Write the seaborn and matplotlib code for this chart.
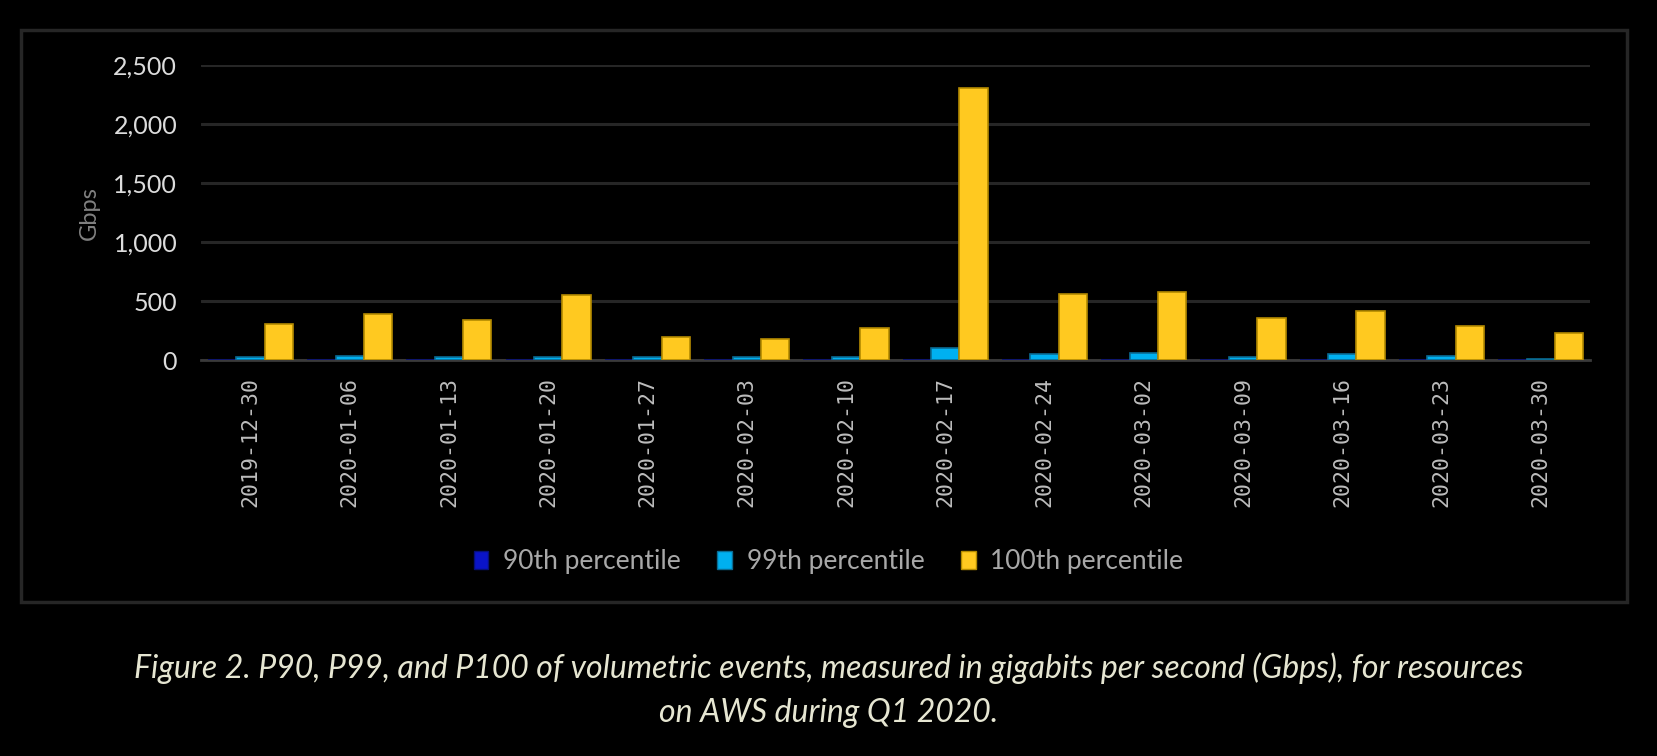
import pandas as pd
import matplotlib.pyplot as plt
import seaborn as sb
from matplotlib.patches import Patch, Rectangle
from matplotlib.ticker import FuncFormatter, FixedLocator

# data (Gbps)
weeks = ['2019-12-30', '2020-01-06', '2020-01-13', '2020-01-20', '2020-01-27',
         '2020-02-03', '2020-02-10', '2020-02-17', '2020-02-24', '2020-03-02',
         '2020-03-09', '2020-03-16', '2020-03-23', '2020-03-30']
p90 = [5, 5, 4, 4, 4, 4, 4, 6, 5, 5, 4, 5, 4, 4]
p99 = [31, 37, 26, 26, 31, 26, 30, 103, 55, 65, 31, 52, 35, 14]
p100 = [310, 390, 345, 550, 200, 180, 270, 2310, 560, 575, 360, 415, 290, 235]
series = ['90th percentile', '99th percentile', '100th percentile']
colors = ['#0A14C8', '#00B0F0', '#FFC920']
edges = ['#06107a', '#0a6c94', '#b38a00']

df = pd.DataFrame({
    'week': weeks * 3,
    'gbps': p90 + p99 + p100,
    'series': [series[0]] * len(weeks) + [series[1]] * len(weeks) + [series[2]] * len(weeks),
})

sb.set_style('dark')
plt.rcParams['font.family'] = ['Lato', 'DejaVu Sans']

fig = plt.figure(figsize=(16.57, 7.56), dpi=100, facecolor='black')
ax = fig.add_axes([0.1212, 0.5234, 0.8386, 0.39])
ax.set_facecolor('black')

sb.barplot(data=df, x='week', y='gbps', hue='series', palette=colors,
           width=0.857, saturation=1, ax=ax, legend=False, zorder=3)
for cont, ec in zip(ax.containers, edges):
    for bar in cont:
        bar.set_edgecolor(ec)
        bar.set_linewidth(1.2)

ax.set_ylim(0, 2500)
ax.set_xlim(-0.5, len(weeks) - 0.5)
ax.set_yticks([0, 500, 1000, 1500, 2000, 2500])
ax.yaxis.set_major_formatter(FuncFormatter(lambda v, p: '{:,.0f}'.format(v)))
ax.grid(axis='y', color='#262626', linewidth=2.2, zorder=0)
ax.grid(axis='x', visible=False)

for s in ['top', 'right', 'left']:
    ax.spines[s].set_visible(False)
ax.spines['bottom'].set_color('#3a3a3a')
ax.spines['bottom'].set_linewidth(2)
ax.spines['bottom'].set_zorder(2)

ax.tick_params(axis='y', length=0, pad=17, labelsize=18, labelcolor='#dcdcdc')
ax.set_xticks(range(len(weeks)))
ax.set_xticklabels(weeks, rotation=90, family='DejaVu Sans Mono', fontsize=15.5, color='#bdbdbd')
ax.tick_params(axis='x', which='major', length=6, width=1.5, color='#3a3a3a', pad=6)
ax.xaxis.set_minor_locator(FixedLocator([i - 0.5 for i in range(len(weeks) + 1)]))
ax.tick_params(axis='x', which='minor', length=7, width=1.5, color='#3a3a3a')

ax.set_xlabel('')
ax.set_ylabel('Gbps', fontsize=17, color='#808080', labelpad=10)

# outer chart frame
fig.patches.append(Rectangle((21 / 1657, 1 - 602 / 756), (1627 - 21) / 1657, (602 - 30) / 756,
                             transform=fig.transFigure, fill=False,
                             edgecolor='#262626', linewidth=2.5))

handles = [Patch(facecolor=c, edgecolor=e, label=s) for c, e, s in zip(colors, edges, series)]
leg = fig.legend(handles=handles, loc='center', bbox_to_anchor=(0.5, 0.257), ncol=3,
                 frameon=False, fontsize=19, handlelength=0.55, handleheight=0.65,
                 handletextpad=0.55, columnspacing=1.4)
for t in leg.get_texts():
    t.set_color('#a8a8a8')

fig.text(0.5, 0.116, 'Figure 2. P90, P99, and P100 of volumetric events, measured in gigabits per second (Gbps), for resources',
         ha='center', va='center', fontsize=23, style='italic', color='#e6e6d2')
fig.text(0.5, 0.057, 'on AWS during Q1 2020.',
         ha='center', va='center', fontsize=23, style='italic', color='#e6e6d2')

plt.savefig('out.png', dpi=100, facecolor='black')
